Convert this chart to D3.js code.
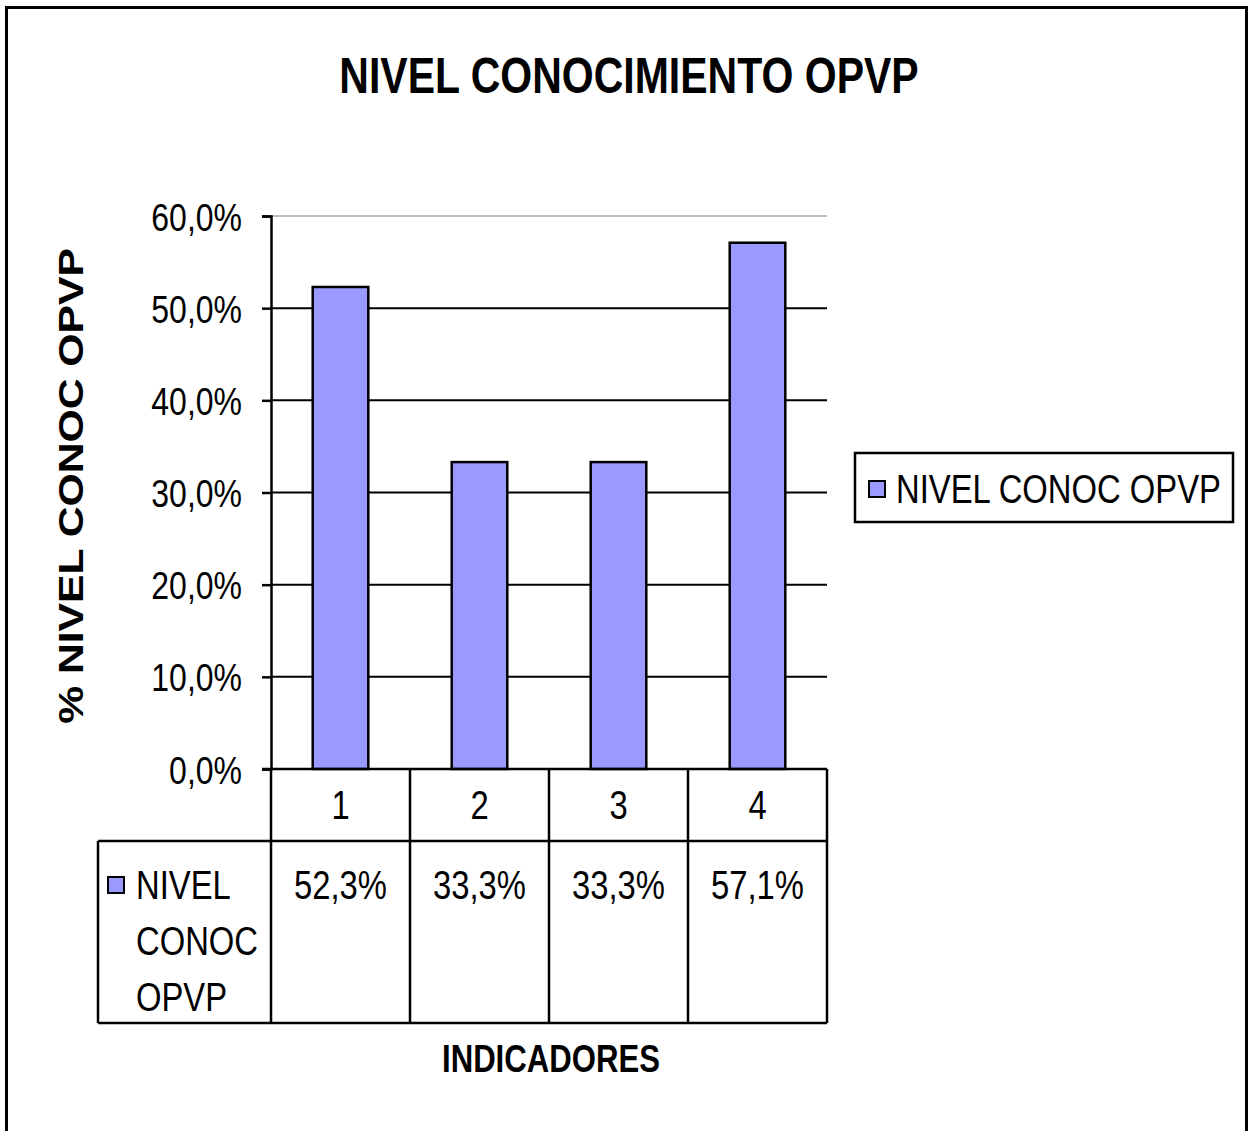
<!DOCTYPE html>
<html>
<head>
<meta charset="utf-8">
<script src="https://cdn.jsdelivr.net/npm/d3@7"></script>
<style>
  html, body { margin: 0; padding: 0; background: #fff; }
  svg { display: block; }
  text { font-family: "Liberation Sans", Arial, sans-serif; fill: #000; }
</style>
</head>
<body>
<svg id="chart" width="1249" height="1131"></svg>
<script>
const categories = ["1", "2", "3", "4"];
const values = [52.3, 33.3, 33.3, 57.1];
const valueLabels = ["52,3%", "33,3%", "33,3%", "57,1%"];
const yTicks = [0, 10, 20, 30, 40, 50, 60];
const yTickLabels = ["0,0%", "10,0%", "20,0%", "30,0%", "40,0%", "50,0%", "60,0%"];
const seriesName = "NIVEL CONOC OPVP";
const seriesNameLines = ["NIVEL", "CONOC", "OPVP"];
const title = "NIVEL CONOCIMIENTO OPVP";
const yTitle = "% NIVEL CONOC OPVP";
const xTitle = "INDICADORES";

const SX = 0.82;          // horizontal squeeze of the original rendering
const barColor = "#9999ff";

const svg = d3.select("#chart");

// outer frame
svg.append("rect").attr("x", 6.5).attr("y", 7.5).attr("width", 1240).attr("height", 1140)
  .attr("fill", "none").attr("stroke", "#000").attr("stroke-width", 3);

const plot = { left: 271, right: 827, top: 216, bottom: 769 };
const x = d3.scaleBand().domain(categories).range([plot.left, plot.right]).padding(0);
const y = d3.scaleLinear().domain([0, 60]).range([plot.bottom, plot.top]);

function txt(g, str, px, py, size, opts = {}) {
  const t = g.append("text")
    .attr("transform", `translate(${px},${py})` + (opts.rotate ? ` rotate(${opts.rotate}) scale(${1 / SX},1)` : ` scale(${SX},1)`))
    .attr("text-anchor", opts.anchor || "start")
    .style("font-size", size + "px")
    .style("font-weight", opts.bold ? "bold" : "normal")
    .text(str);
  return t;
}

// title
txt(svg, title, 629, 93, 50, { anchor: "middle", bold: true });

// gridlines
svg.append("g").selectAll("line").data(yTicks.filter(d => d > 0)).join("line")
  .attr("x1", plot.left).attr("x2", plot.right)
  .attr("y1", d => y(d)).attr("y2", d => y(d))
  .attr("stroke", d => d === 60 ? "#c0c0c0" : "#000")
  .attr("stroke-width", 2);

// y axis
const yAxis = d3.axisLeft(y).tickValues(yTicks).tickSize(9).tickFormat((d, i) => yTickLabels[i]);
const gy = svg.append("g").attr("transform", `translate(${plot.left},0)`).call(yAxis);
gy.select(".domain").attr("stroke", "#000").attr("stroke-width", 2.5);
gy.selectAll(".tick line").attr("stroke", "#000").attr("stroke-width", 2.5);
gy.selectAll(".tick text").remove();
gy.selectAll(".tick").each(function (d, i) {
  txt(d3.select(this), yTickLabels[i], -29, 14, 39, { anchor: "end" });
});

// bars
svg.append("g").selectAll("rect").data(values).join("rect")
  .attr("x", (d, i) => x(categories[i]) + x.bandwidth() * 0.3)
  .attr("width", x.bandwidth() * 0.4)
  .attr("y", d => y(d))
  .attr("height", d => y(0) - y(d))
  .attr("fill", barColor).attr("stroke", "#000").attr("stroke-width", 2.5);

// x axis line (0%)
svg.append("line").attr("x1", plot.left - 9).attr("x2", plot.right)
  .attr("y1", y(0)).attr("y2", y(0)).attr("stroke", "#000").attr("stroke-width", 2.5);

// data table
const tbl = svg.append("g");
const rowTop = plot.bottom, rowMid = 841, rowBot = 1023, tblLeft = 98;
function ln(x1, y1, x2, y2) {
  tbl.append("line").attr("x1", x1).attr("y1", y1).attr("x2", x2).attr("y2", y2)
    .attr("stroke", "#000").attr("stroke-width", 2.5);
}
ln(tblLeft, rowMid, plot.right, rowMid);
ln(tblLeft, rowBot, plot.right, rowBot);
ln(tblLeft, rowMid, tblLeft, rowBot);
categories.forEach(c => ln(x(c), rowTop, x(c), rowBot));
ln(plot.right, rowTop, plot.right, rowBot);

categories.forEach((c, i) => {
  const cx = x(c) + x.bandwidth() / 2;
  txt(tbl, c, cx, 819, 40, { anchor: "middle" });
  txt(tbl, valueLabels[i], cx, 899, 40, { anchor: "middle" });
});
tbl.append("rect").attr("x", 108).attr("y", 877).attr("width", 16).attr("height", 16)
  .attr("fill", barColor).attr("stroke", "#000").attr("stroke-width", 2);
seriesNameLines.forEach((s, i) => txt(tbl, s, 136, 899 + i * 56, 40, {}));

// axis titles
txt(svg, xTitle, 551, 1072, 38, { anchor: "middle", bold: true });
txt(svg, yTitle, 83, 486, 35, { anchor: "middle", bold: true, rotate: -90 });

// legend
const lg = svg.append("g");
lg.append("rect").attr("x", 855).attr("y", 453).attr("width", 378).attr("height", 69)
  .attr("fill", "#fff").attr("stroke", "#000").attr("stroke-width", 2.5);
lg.append("rect").attr("x", 869).attr("y", 481).attr("width", 16).attr("height", 16)
  .attr("fill", barColor).attr("stroke", "#000").attr("stroke-width", 2);
txt(lg, seriesName, 896, 503, 40, {});
</script>
</body>
</html>
